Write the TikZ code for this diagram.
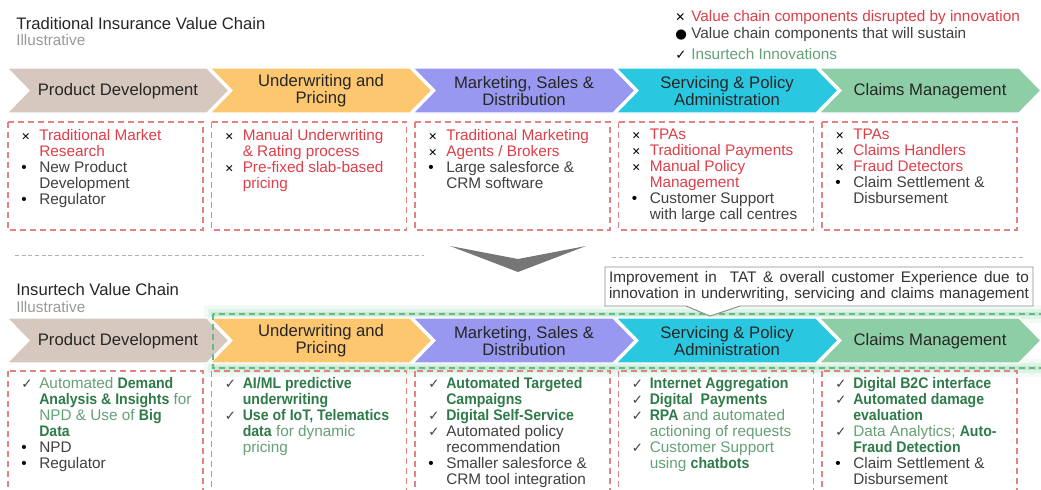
\documentclass[tikz,border=0pt]{standalone}
\usepackage{fontspec}
\setmainfont[BoldFeatures={FakeStretch=0.92}]{Liberation Sans}
\newfontfamily\symfont{DejaVu Sans}

\definecolor{pdcol}{RGB}{214,200,191}
\definecolor{uwcol}{RGB}{253,199,112}
\definecolor{mkcol}{RGB}{152,152,240}
\definecolor{sccol}{RGB}{42,200,224}
\definecolor{clcol}{RGB}{142,206,166}
\definecolor{redtxt}{RGB}{222,62,72}
\definecolor{greytxt}{RGB}{64,64,64}
\definecolor{grntxt}{RGB}{46,122,72}
\definecolor{lgrntxt}{RGB}{100,160,118}
\definecolor{boxred}{RGB}{226,130,130}
\definecolor{glowgrn}{RGB}{120,205,155}
\definecolor{dashgrn}{RGB}{105,185,135}
\definecolor{vgrey}{RGB}{118,118,118}

% one line of a box list: marker, then text
\newcommand{\vcline}[2]{\makebox[13.5pt][l]{#1}#2}
\newcommand{\xmark}{{\color{black}\symfont\bfseries\fontsize{8}{8}\selectfont ✕}}
\newcommand{\bmark}{{\color{black}\textbullet}}
\newcommand{\cmark}{{\color{black!75}\symfont\fontsize{10}{10}\selectfont ✓}}
\newcommand{\redt}[1]{{\color{redtxt}#1}}
\newcommand{\grnt}[1]{{\color{lgrntxt}#1}}
\newcommand{\grnb}[1]{{\color{grntxt}\bfseries #1}}

\begin{document}
\begin{tikzpicture}[x=0.75pt,y=-0.75pt,
  chev/.style={draw=white,line width=1pt},
  chevtxt/.style={font=\fontsize{12.5}{12.5}\selectfont,color=black!85,align=center},
  listbox/.style={draw=boxred,dash pattern=on 4.5pt off 3pt,line width=0.8pt},
  listtxt/.style={anchor=north west,inner sep=0pt,align=left,
    font=\fontsize{11.5}{12}\selectfont,color=greytxt},
  title/.style={anchor=west,inner sep=0pt,font=\fontsize{12.5}{13}\selectfont,color=black!85},
  subtitle/.style={anchor=west,inner sep=0pt,font=\fontsize{11.5}{12}\selectfont,color=black!40},
  legend/.style={anchor=west,inner sep=0pt,font=\fontsize{11.5}{12}\selectfont},
  divider/.style={draw=black!30,dash pattern=on 3pt off 2pt,line width=0.6pt},
  glowline/.style={draw=glowgrn},
  grndash/.style={draw=dashgrn,dash pattern=on 4.5pt off 3pt,line width=1pt},
  callout/.style={draw=black!45,fill=white,line width=0.7pt},
  callouttxt/.style={inner sep=0pt,align=left,font=\fontsize{11.5}{11.3}\selectfont,color=black!80}]

\clip (0,0) rectangle (1041,489);

% titles and legend
\node[title] (t1) at (16,24) {Traditional Insurance Value Chain};
\node[subtitle] (s1) at (16,40) {Illustrative};
\node[legend] (lg1) at (675,18) {\makebox[12pt][l]{\symfont\bfseries\fontsize{9}{9}\selectfont ✕}\redt{Value chain components disrupted by innovation}};
\node[legend] (lg2) at (675,35) {\makebox[12pt][l]{\symfont\fontsize{10}{10}\selectfont ●}{\color{greytxt}Value chain components that will sustain}};
\node[legend] (lg3) at (675,54) {\makebox[12pt][l]{\symfont\bfseries\fontsize{10}{10}\selectfont ✓}\grnt{Insurtech Innovations}};

% traditional chain
\filldraw[chev,fill=pdcol] (7,68) -- (207,68) -- (229,90.5) -- (207,113) -- (7,113) -- (29,90.5) -- cycle;
\filldraw[chev,fill=uwcol] (210,68) -- (410,68) -- (432,90.5) -- (410,113) -- (210,113) -- (232,90.5) -- cycle;
\filldraw[chev,fill=mkcol] (413,68) -- (613,68) -- (635,90.5) -- (613,113) -- (413,113) -- (435,90.5) -- cycle;
\filldraw[chev,fill=sccol] (616,68) -- (816,68) -- (838,90.5) -- (816,113) -- (616,113) -- (638,90.5) -- cycle;
\filldraw[chev,fill=clcol] (819,68) -- (1019,68) -- (1041,90.5) -- (1019,113) -- (819,113) -- (841,90.5) -- cycle;

\node[chevtxt] (pd1) at (118,91) {Product Development};
\node[chevtxt] (uw1) at (321,91) {Underwriting and\\Pricing};
\node[chevtxt] (mk1) at (524,91) {Marketing, Sales \&\\Distribution};
\node[chevtxt] (sc1) at (727,91) {Servicing \& Policy\\Administration};
\node[chevtxt] (cl1) at (930,91) {Claims Management};

\draw[listbox] (8,122) rectangle (203,230);
\draw[listbox] (211.5,122) rectangle (406.5,230);
\draw[listbox] (415,122) rectangle (610,230);
\draw[listbox] (618.5,122) rectangle (813.5,230);
\draw[listbox] (822,122) rectangle (1017,230);

\node[listtxt] (tl1) at (21,129) {\vcline{\xmark}{\redt{Traditional Market}}\\
  \vcline{}{\redt{Research}}\\
  \vcline{\bmark}{New Product}\\
  \vcline{}{Development}\\
  \vcline{\bmark}{Regulator}};
\node[listtxt] (tl2) at (224.5,129) {\vcline{\xmark}{\redt{Manual Underwriting}}\\
  \vcline{}{\redt{\& Rating process}}\\
  \vcline{\xmark}{\redt{Pre-fixed slab-based}}\\
  \vcline{}{\redt{pricing}}};
\node[listtxt] (tl3) at (428,129) {\vcline{\xmark}{\redt{Traditional Marketing}}\\
  \vcline{\xmark}{\redt{Agents / Brokers}}\\
  \vcline{\bmark}{Large salesforce \&}\\
  \vcline{}{CRM software}};
\node[listtxt] (tl4) at (631.5,129) {\vcline{\xmark}{\redt{TPAs}}\\
  \vcline{\xmark}{\redt{Traditional Payments}}\\
  \vcline{\xmark}{\redt{Manual Policy}}\\
  \vcline{}{\redt{Management}}\\
  \vcline{\bmark}{Customer Support}\\
  \vcline{}{with large call centres}};
\node[listtxt] (tl5) at (835,129) {\vcline{\xmark}{\redt{TPAs}}\\
  \vcline{\xmark}{\redt{Claims Handlers}}\\
  \vcline{\xmark}{\redt{Fraud Detectors}}\\
  \vcline{\bmark}{Claim Settlement \&}\\
  \vcline{}{Disbursement}};

% change arrow and dividers
\draw[divider] (15,255) -- (424,255);
\draw[divider] (612,257) -- (1025,257);
\fill[vgrey] (450,246) -- (518,259) -- (586,246) -- (518,272) -- cycle;

% insurtech chain
\node[title] (t2) at (16,290) {Insurtech Value Chain};
\node[subtitle] (s2) at (16,307) {Illustrative};

\draw[glowline,line width=13pt,opacity=.10] (213,314) rectangle (1070,368);
\draw[glowline,line width=8pt,opacity=.15] (213,314) rectangle (1070,368);
\draw[glowline,line width=3.5pt,opacity=.25] (213,314) rectangle (1070,368);

\filldraw[chev,fill=pdcol] (7,318) -- (207,318) -- (229,340.5) -- (207,363) -- (7,363) -- (29,340.5) -- cycle;
\filldraw[chev,fill=uwcol] (210,318) -- (410,318) -- (432,340.5) -- (410,363) -- (210,363) -- (232,340.5) -- cycle;
\filldraw[chev,fill=mkcol] (413,318) -- (613,318) -- (635,340.5) -- (613,363) -- (413,363) -- (435,340.5) -- cycle;
\filldraw[chev,fill=sccol] (616,318) -- (816,318) -- (838,340.5) -- (816,363) -- (616,363) -- (638,340.5) -- cycle;
\filldraw[chev,fill=clcol] (819,318) -- (1019,318) -- (1041,340.5) -- (1019,363) -- (819,363) -- (841,340.5) -- cycle;

\node[chevtxt] (pd2) at (118,341) {Product Development};
\node[chevtxt] (uw2) at (321,341) {Underwriting and\\Pricing};
\node[chevtxt] (mk2) at (524,341) {Marketing, Sales \&\\Distribution};
\node[chevtxt] (sc2) at (727,341) {Servicing \& Policy\\Administration};
\node[chevtxt] (cl2) at (930,341) {Claims Management};

\draw[grndash] (213,314) rectangle (1070,368);

\filldraw[callout] (605,267) -- (1033,267) -- (1033,306) -- (740,306) -- (710,316) -- (686,306) -- (605,306) -- cycle;
\node[callouttxt] (co) at (819,286.5) {\makebox[315pt][s]{Improvement in\ \ TAT \& overall customer Experience due to}\\
  \makebox[315pt][s]{innovation in underwriting, servicing and claims management}};

\draw[listbox] (8,371) rectangle (203,500);
\draw[listbox] (211.5,371) rectangle (406.5,500);
\draw[listbox] (415,371) rectangle (610,500);
\draw[listbox] (618.5,371) rectangle (813.5,500);
\draw[listbox] (822,371) rectangle (1017,500);

\node[listtxt] (bl1) at (21,377) {\vcline{\cmark}{\grnt{Automated} \grnb{Demand}}\\
  \vcline{}{\grnb{Analysis \& Insights} \grnt{for}}\\
  \vcline{}{\grnt{NPD \& Use of} \grnb{Big}}\\
  \vcline{}{\grnb{Data}}\\
  \vcline{\bmark}{NPD}\\
  \vcline{\bmark}{Regulator}};
\node[listtxt] (bl2) at (224.5,377) {\vcline{\cmark}{\grnb{AI/ML predictive}}\\
  \vcline{}{\grnb{underwriting}}\\
  \vcline{\cmark}{\grnb{Use of IoT, Telematics}}\\
  \vcline{}{\grnb{data} \grnt{for dynamic}}\\
  \vcline{}{\grnt{pricing}}};
\node[listtxt] (bl3) at (428,377) {\vcline{\cmark}{\grnb{Automated Targeted}}\\
  \vcline{}{\grnb{Campaigns}}\\
  \vcline{\cmark}{\grnb{Digital Self-Service}}\\
  \vcline{\cmark}{Automated policy}\\
  \vcline{}{recommendation}\\
  \vcline{\bmark}{Smaller salesforce \&}\\
  \vcline{}{CRM tool integration}};
\node[listtxt] (bl4) at (631.5,377) {\vcline{\cmark}{\grnb{Internet Aggregation}}\\
  \vcline{\cmark}{\grnb{Digital\ \ Payments}}\\
  \vcline{\cmark}{\grnb{RPA} \grnt{and automated}}\\
  \vcline{}{\grnt{actioning of requests}}\\
  \vcline{\cmark}{\grnt{Customer Support}}\\
  \vcline{}{\grnt{using} \grnb{chatbots}}};
\node[listtxt] (bl5) at (835,377) {\vcline{\cmark}{\grnb{Digital B2C interface}}\\
  \vcline{\cmark}{\grnb{Automated damage}}\\
  \vcline{}{\grnb{evaluation}}\\
  \vcline{\cmark}{\grnt{Data Analytics;} \grnb{Auto-}}\\
  \vcline{}{\grnb{Fraud Detection}}\\
  \vcline{\bmark}{Claim Settlement \&}\\
  \vcline{}{Disbursement}};

\end{tikzpicture}
\end{document}
